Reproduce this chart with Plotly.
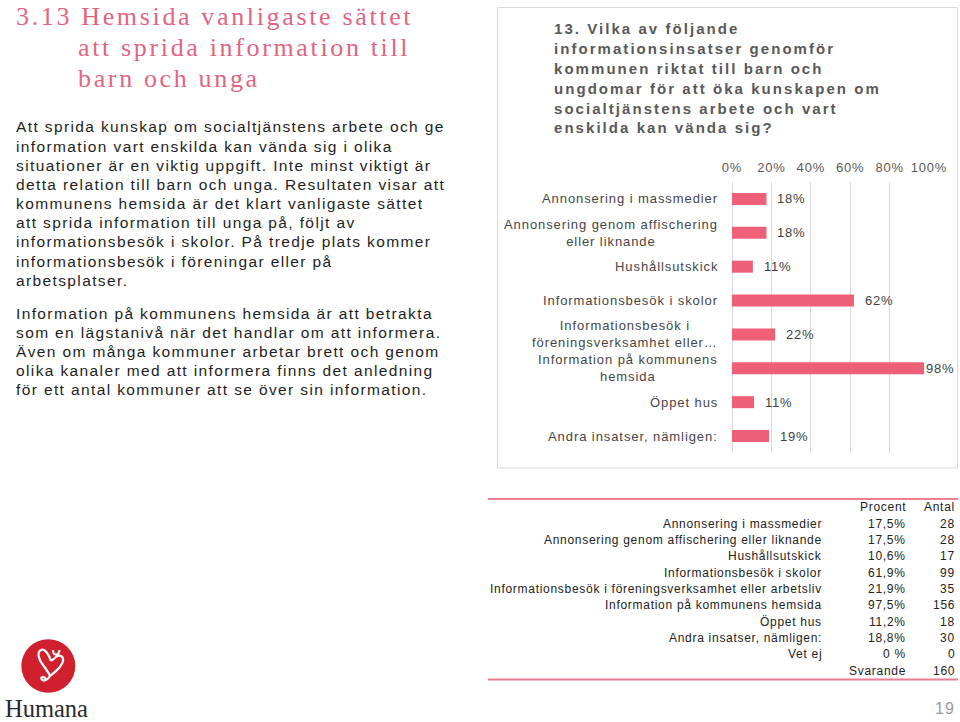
import plotly.graph_objects as go

# ---------------- data ----------------
categories = [
    "Annonsering i massmedier",
    "Annonsering genom affischering<br>eller liknande",
    "Hushållsutskick",
    "Informationsbesök i skolor",
    "Informationsbesök i<br>föreningsverksamhet eller…",
    "Information på kommunens<br>hemsida",
    "Öppet hus",
    "Andra insatser, nämligen:",
]
values = [17.5, 17.5, 10.6, 61.9, 21.9, 97.5, 11.2, 18.8]
tick_values = [0, 20, 40, 60, 80, 100]
tick_labels = ["0%", "20%", "40%", "60%", "80%", "100%"]

chart_title_lines = [
    "13. Vilka av följande",
    "informationsinsatser genomför",
    "kommunen riktat till barn och",
    "ungdomar för att öka kunskapen om",
    "socialtjänstens arbete och vart",
    "enskilda kan vända sig?",
]

table_labels = [
    "Annonsering i massmedier",
    "Annonsering genom affischering eller liknande",
    "Hushållsutskick",
    "Informationsbesök i skolor",
    "Informationsbesök i föreningsverksamhet eller arbetsliv",
    "Information på kommunens hemsida",
    "Öppet hus",
    "Andra insatser, nämligen:",
    "Vet ej",
]
table_percent = ["17,5%", "17,5%", "10,6%", "61,9%", "21,9%", "97,5%", "11,2%", "18,8%", "0 %"]
table_count = [28, 28, 17, 99, 35, 156, 18, 30, 0]
respondents = 160

page_title_lines = [
    "3.13 Hemsida vanligaste sättet",
    "att sprida information till",
    "barn och unga",
]
paragraph1 = [
    "Att sprida kunskap om socialtjänstens arbete och ge",
    "information vart enskilda kan vända sig i olika",
    "situationer är en viktig uppgift. Inte minst viktigt är",
    "detta relation till barn och unga. Resultaten visar att",
    "kommunens hemsida är det klart vanligaste sättet",
    "att sprida information till unga på, följt av",
    "informationsbesök i skolor. På tredje plats kommer",
    "informationsbesök i föreningar eller på",
    "arbetsplatser.",
]
paragraph2 = [
    "Information på kommunens hemsida är att betrakta",
    "som en lägstanivå när det handlar om att informera.",
    "Även om många kommuner arbetar brett och genom",
    "olika kanaler med att informera finns det anledning",
    "för ett antal kommuner att se över sin information.",
]
page_number = "19"

# ---------------- helpers ----------------
W, H = 960, 722
SANS = "Liberation Sans, Arial, sans-serif"
SERIF = "Liberation Serif, Times New Roman, serif"
PINK = "#EF5F78"
PINK_TITLE = "#E3647F"


def px(x):
    return x / W


def py(y):
    return 1 - y / H


def sp(text, ls):
    return f'<span style="letter-spacing:{ls}px">{text}</span>'


annotations = []


def add_text(text, x, y, size, color, family=SANS, xanchor="left", ls=0.0,
             bold=False, align="left"):
    t = sp(text, ls) if ls else text
    if bold:
        t = "<b>" + t + "</b>"
    annotations.append(dict(
        text=t, x=px(x), y=py(y), xref="paper", yref="paper",
        xanchor=xanchor, yanchor="middle", showarrow=False, align=align,
        font=dict(family=family, size=size, color=color),
    ))


# ---------------- figure ----------------
fig = go.Figure(go.Bar(
    x=values, y=categories, orientation="h",
    marker=dict(color=PINK, line=dict(width=0)),
    width=0.355, hoverinfo="skip",
))

# category labels (centred multi-line, right anchored)
for c in categories:
    annotations.append(dict(
        text=sp(c, 0.92), x=px(720), y=c, xref="paper", yref="y",
        xanchor="right", yanchor="middle", align="center", showarrow=False,
        font=dict(family=SANS, size=13, color="#454545"),
    ))

# data labels
for c, v in zip(categories, values):
    annotations.append(dict(
        text=sp(f"{int(v + 0.5)}%", 0.8), x=v, y=c, xref="x", yref="y",
        xanchor="left", yanchor="middle", showarrow=False,
        xshift=0 if v > 90 else 9,
        font=dict(family=SANS, size=13, color="#404040"),
    ))

# chart title
for i, line in enumerate(chart_title_lines):
    add_text(line, 552, 29 + i * 19.8, 15, "#595959", ls=2.05, bold=True)

# page title
add_text(page_title_lines[0], 14, 16, 26, PINK_TITLE, family=SERIF, ls=2.65)
add_text(page_title_lines[1], 76, 47.5, 26, PINK_TITLE, family=SERIF, ls=2.65)
add_text(page_title_lines[2], 76, 79, 26, PINK_TITLE, family=SERIF, ls=2.65)

# body text
for i, line in enumerate(paragraph1):
    add_text(line, 14, 127 + i * 19.15, 15.5, "#1e1e1e", ls=1.38)
for i, line in enumerate(paragraph2):
    add_text(line, 14, 313 + i * 19.25, 15.5, "#1e1e1e", ls=1.38)

# table
TLS = 0.71
add_text("Procent", 908, 507, 12, "#222222", xanchor="right", ls=TLS)
add_text("Antal", 957, 507, 12, "#222222", xanchor="right", ls=TLS)
for i, (lab, pc, n) in enumerate(zip(table_labels, table_percent, table_count)):
    yy = 523.5 + i * 16.35
    add_text(lab, 824, yy, 12, "#222222", xanchor="right", ls=TLS)
    add_text(pc, 908, yy, 12, "#222222", xanchor="right", ls=TLS)
    add_text(str(n), 957, yy, 12, "#222222", xanchor="right", ls=TLS)
add_text("Svarande", 908, 670.5, 12, "#222222", xanchor="right", ls=TLS)
add_text(str(respondents), 957, 670.5, 12, "#222222", xanchor="right", ls=TLS)

# logo text and page number
add_text("Humana", 3, 708, 24.5, "#2a2a2a", family=SERIF)
add_text(page_number, 945, 708, 16, "#9a9a9a", xanchor="center", ls=1)

shapes = [
    # chart frame
    dict(type="rect", xref="paper", yref="paper", x0=px(497.5), x1=px(957.5),
         y0=py(7.5), y1=py(468), line=dict(color="#D9D9D9", width=1)),
    # table rules
    dict(type="line", xref="paper", yref="paper", x0=px(488), x1=px(958),
         y0=py(499), y1=py(499), line=dict(color="#EC7D92", width=2)),
    dict(type="line", xref="paper", yref="paper", x0=px(488), x1=px(958),
         y0=py(679.5), y1=py(679.5), line=dict(color="#EC7D92", width=2)),
    # logo circle
    dict(type="circle", xref="paper", yref="paper", x0=px(21.3), x1=px(75.3),
         y0=py(639.3), y1=py(692.7), fillcolor="#D0202E", line=dict(width=0)),
]


def path_px(cmds):
    out = []
    for item in cmds:
        if isinstance(item, str):
            out.append(item)
        else:
            out.append(f"{px(item[0]):.5f},{py(item[1]):.5f}")
    return " ".join(out)


# white flourish in the logo (heart with loops)
logo_path = path_px([
    "M", (51, 661), "C", (49, 655), (45, 648), (41, 650),
    "C", (37, 652), (38, 659), (43, 665),
    "C", (46, 669), (49, 673), (50, 676),
    "C", (55, 672), (62, 667), (63, 661),
    "C", (64, 656), (59, 654), (56, 657),
    "C", (54, 659), (52, 660), (51, 661),
    "M", (53, 650), "C", (53, 656), (59, 656), (59.5, 650),
    "M", (50, 676), "C", (48, 680), (43, 682), (41.5, 679),
    "C", (40.5, 677), (44, 676), (46, 679),
])
shapes.append(dict(type="path", xref="paper", yref="paper", path=logo_path,
                   line=dict(color="white", width=2.2)))

fig.update_layout(
    template="none",
    width=W, height=H, autosize=False,
    margin=dict(l=0, r=0, t=0, b=0, pad=0, autoexpand=False),
    paper_bgcolor="white", plot_bgcolor="white",
    showlegend=False,
    xaxis=dict(
        domain=[px(732), px(929)], range=[0, 100], side="top",
        automargin=False,
        tickmode="array", tickvals=tick_values,
        ticktext=[sp(t, 0.8) for t in tick_labels],
        tickfont=dict(family=SANS, size=13, color="#595959"),
        ticks="", ticklabelstandoff=6,
        showgrid=True, gridcolor="#D9D9D9", gridwidth=1,
        zeroline=True, zerolinecolor="#D9D9D9", zerolinewidth=1,
        showline=False, fixedrange=True,
    ),
    yaxis=dict(
        domain=[py(453), py(182)], type="category", autorange="reversed",
        automargin=False,
        showticklabels=False, showgrid=False, zeroline=False, showline=False,
        fixedrange=True,
    ),
    annotations=annotations,
    shapes=shapes,
)

fig.write_html("out.html")
